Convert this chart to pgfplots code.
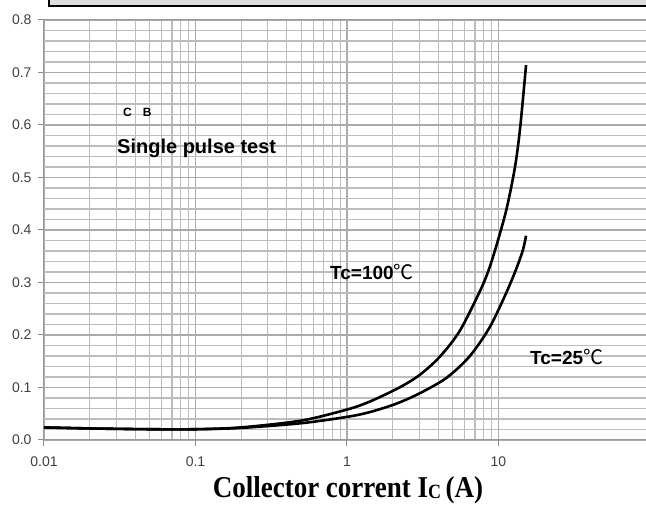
\documentclass[border=0pt]{standalone}
\usepackage{pgfplots}
\pgfplotsset{compat=1.18}
\usepackage{fontspec}
\setmainfont{Liberation Sans}
\newfontfamily\serif{Liberation Serif}
\newfontfamily\cjk{Noto Sans CJK SC}
\begin{document}
\begin{tikzpicture}
\begin{axis}[
 at={(0pt,0pt)}, anchor=south west,
 scale only axis, width=602pt, height=420pt,
 xmode=log, xmin=0.01, xmax=94.1, ymin=0, ymax=0.8,
 xtick={0.01,0.1,1,10}, xticklabels={0.01,0.1,1,10},
 ytick={0,0.1,0.2,0.3,0.4,0.5,0.6,0.7,0.8},
 minor y tick num=4,
 grid=both,
 major grid style={color=black!33, line width=1.1pt},
 minor grid style={color=black!26, line width=1.1pt},
 axis line style={color=black!40, line width=1pt},
 tick style={color=black!45, line width=1pt},
 tick align=outside, major tick length=6pt, minor tick length=0pt,
 xtick pos=lower, ytick pos=left,
 ticklabel style={font=\fontsize{14}{16}\selectfont, text=black!75},
 /pgf/number format/assume math mode=true,
 yticklabel style={/pgf/number format/fixed, /pgf/number format/fixed zerofill, /pgf/number format/precision=1, xshift=-3pt},
 xticklabel style={yshift=-7pt},
]
% Tc=100
\addplot[black, line width=2.6pt, smooth] coordinates {
(0.01,0.024) (0.02,0.022) (0.05,0.0205) (0.1,0.0205) (0.2,0.024) (0.5,0.037) (1,0.058) (1.41,0.073) (2.22,0.100) (3.02,0.124) (4.08,0.158) (5.53,0.207) (7.5,0.282) (8.57,0.322) (9.73,0.372) (11.3,0.440) (12.85,0.520) (13.9,0.595) (15.2,0.714)
};
% Tc=25
\addplot[black, line width=2.6pt, smooth] coordinates {
(0.01,0.024) (0.02,0.022) (0.05,0.0205) (0.1,0.0205) (0.2,0.023) (0.5,0.032) (1,0.044) (1.41,0.053) (2.11,0.069) (3.02,0.089) (4.52,0.118) (6.43,0.159) (8.72,0.214) (11.2,0.279) (13.1,0.326) (14.5,0.362) (15.2,0.389)
};
\end{axis}
\draw[line width=2pt, fill=black!13] (4.6pt,434pt) rectangle (700pt,480pt);
\node[anchor=west, inner sep=0pt, font=\bfseries\fontsize{12}{14}\selectfont] at (79pt,328pt) {C\hspace{11pt}B};
\node[anchor=west, inner sep=0pt, font=\bfseries\fontsize{20}{22}\selectfont] at (73pt,292pt) {Single pulse test};
\node[anchor=west, inner sep=0pt, font=\bfseries\fontsize{19}{21}\selectfont] at (286pt,168pt) {Tc=100{\cjk\mdseries\fontsize{20}{22}\selectfont ℃}};
\node[anchor=west, inner sep=0pt, font=\bfseries\fontsize{19}{21}\selectfont] at (486pt,83pt) {Tc=25{\cjk\mdseries\fontsize{20}{22}\selectfont ℃}};
\node[inner sep=0pt, font=\serif\bfseries\fontsize{27}{30}\selectfont] at (304pt,-50pt) {\scalebox{1}[1.12]{Collector corrent I{\fontsize{18}{20}\selectfont\raisebox{-1pt}{C}}\,(A)}};
\pgfresetboundingbox
\path (-44pt,-70pt) rectangle (602pt,440pt);
\end{tikzpicture}
\end{document}
